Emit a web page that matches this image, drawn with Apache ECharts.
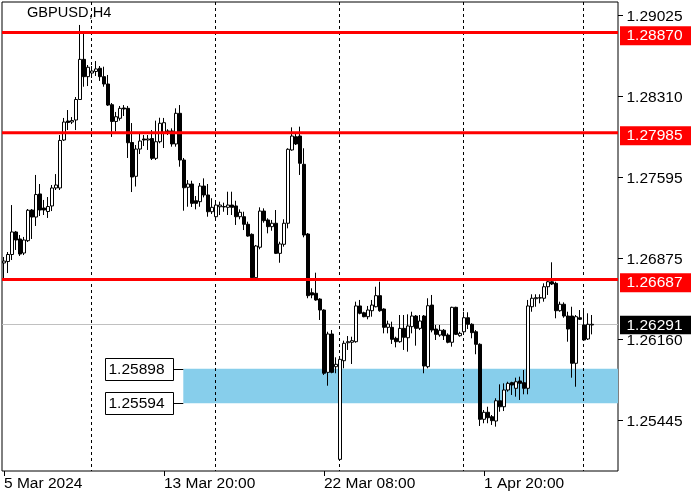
<!DOCTYPE html>
<html>
<head>
<meta charset="utf-8">
<script src="https://cdn.jsdelivr.net/npm/echarts@6/dist/echarts.min.js"></script>
<style>html,body{margin:0;padding:0;background:#fff}#c{width:700px;height:500px}</style>
</head>
<body>
<div id="c"></div>
<script>
const symbolTitle = 'GBPUSD,H4';
// H4 bars: [open, close, low, high]
const candles = [
[1.26833,1.26850,1.26700,1.26886],[1.26846,1.26908,1.26744,1.26930],[1.26908,1.27107,1.26859,1.27345],[1.27107,1.27036,1.26948,1.27116],
[1.27045,1.26912,1.26895,1.27080],[1.26921,1.27036,1.26903,1.27063],[1.27030,1.27299,1.27018,1.27310],[1.27301,1.27239,1.27045,1.27310],
[1.27239,1.27438,1.27160,1.27611],[1.27443,1.27301,1.27248,1.27531],[1.27319,1.27301,1.27257,1.27390],[1.27288,1.27332,1.27231,1.27416],
[1.27337,1.27496,1.27292,1.27522],[1.27496,1.27522,1.27478,1.27619],[1.27496,1.27916,1.27478,1.27964],[1.27920,1.28079,1.27911,1.28115],
[1.28088,1.28075,1.28008,1.28185],[1.28079,1.28092,1.28061,1.28123],[1.28097,1.28278,1.28008,1.28300],[1.28278,1.28633,1.28274,1.28937],
[1.28633,1.28480,1.28391,1.28866],[1.28480,1.28563,1.28397,1.28583],[1.28512,1.28530,1.28468,1.28574],[1.28526,1.28548,1.28486,1.28618],
[1.28554,1.28480,1.28442,1.28574],[1.28480,1.28415,1.28391,1.28568],[1.28415,1.28229,1.28221,1.28495],[1.28232,1.28084,1.27947,1.28247],
[1.28084,1.28126,1.27995,1.28168],[1.28112,1.28200,1.28091,1.28221],[1.28203,1.28194,1.28132,1.28229],[1.28200,1.27896,1.27761,1.28221],
[1.27898,1.27593,1.27460,1.28070],[1.27599,1.27840,1.27509,1.27876],[1.27840,1.27911,1.27796,1.27973],[1.27929,1.27920,1.27867,1.27964],
[1.27920,1.27929,1.27832,1.27964],[1.27933,1.27758,1.27743,1.28008],[1.27758,1.27905,1.27743,1.28091],[1.27905,1.28068,1.27891,1.28117],
[1.27988,1.28073,1.27849,1.28115],[1.28000,1.27979,1.27964,1.28015],[1.28000,1.27885,1.27861,1.28023],[1.27885,1.28156,1.27861,1.28200],
[1.28156,1.27743,1.27684,1.28229],[1.27743,1.27498,1.27295,1.27761],[1.27502,1.27531,1.27330,1.27566],[1.27531,1.27360,1.27328,1.27560],
[1.27383,1.27360,1.27307,1.27425],[1.27375,1.27513,1.27330,1.27540],[1.27513,1.27434,1.27413,1.27581],[1.27434,1.27286,1.27242,1.27531],
[1.27286,1.27325,1.27266,1.27405],[1.27242,1.27345,1.27231,1.27363],[1.27330,1.27345,1.27257,1.27375],[1.27332,1.27328,1.27286,1.27366],
[1.27325,1.27345,1.27257,1.27463],[1.27345,1.27325,1.27257,1.27463],[1.27337,1.27242,1.27169,1.27383],[1.27242,1.27281,1.27219,1.27307],
[1.27242,1.27175,1.27124,1.27286],[1.27175,1.27071,1.27065,1.27198],[1.27086,1.26703,1.26697,1.27095],[1.26703,1.26983,1.26689,1.26992],
[1.26972,1.27292,1.26954,1.27325],[1.27292,1.27207,1.27189,1.27316],[1.27213,1.27154,1.27095,1.27228],[1.27154,1.27184,1.27118,1.27213],
[1.27184,1.26918,1.26912,1.27301],[1.26918,1.27001,1.26835,1.27021],[1.26998,1.27184,1.26977,1.27219],[1.27184,1.27838,1.27139,1.27847],
[1.27832,1.27955,1.27825,1.28032],[1.27949,1.27885,1.27876,1.27979],[1.27955,1.27714,1.27611,1.28038],[1.27705,1.27080,1.27060,1.27847],
[1.27089,1.26544,1.26521,1.27098],[1.26570,1.26550,1.26521,1.26609],[1.26565,1.26506,1.26499,1.26747],[1.26514,1.26417,1.26329,1.26521],
[1.26417,1.25858,1.25843,1.26423],[1.25866,1.26205,1.25748,1.26225],[1.26205,1.25866,1.25858,1.26240],[1.25916,1.25937,1.25858,1.25999],
[1.25097,1.25981,1.25091,1.26004],[1.25969,1.26123,1.25902,1.26146],[1.26128,1.26137,1.26064,1.26187],[1.26132,1.26146,1.25940,1.26181],
[1.26137,1.26453,1.26128,1.26491],[1.26453,1.26388,1.26379,1.26506],[1.26393,1.26358,1.26353,1.26402],[1.26358,1.26417,1.26335,1.26453],
[1.26411,1.26461,1.26358,1.26506],[1.26446,1.26544,1.26441,1.26623],[1.26544,1.26411,1.26402,1.26667],[1.26426,1.26264,1.26211,1.26432],
[1.26264,1.26293,1.26211,1.26323],[1.26264,1.26158,1.26117,1.26314],[1.26167,1.26137,1.26087,1.26181],[1.26137,1.26255,1.26128,1.26373],
[1.26255,1.26176,1.26064,1.26373],[1.26172,1.26276,1.26049,1.26379],[1.26270,1.26364,1.26211,1.26402],[1.26364,1.26255,1.26102,1.26373],
[1.26255,1.26320,1.26240,1.26373],[1.26364,1.25922,1.25858,1.26373],[1.25916,1.26455,1.25902,1.26521],[1.26461,1.26240,1.26220,1.26550],
[1.26249,1.26202,1.26152,1.26285],[1.26196,1.26238,1.26181,1.26285],[1.26238,1.26190,1.26152,1.26249],[1.26196,1.26132,1.26123,1.26211],
[1.26132,1.26441,1.26093,1.26446],[1.26441,1.26202,1.26196,1.26446],[1.26190,1.26211,1.26181,1.26225],[1.26225,1.26349,1.26196,1.26402],
[1.26349,1.26291,1.26249,1.26397],[1.26291,1.26217,1.26167,1.26300],[1.26225,1.26114,1.26026,1.26240],[1.26114,1.25451,1.25392,1.26123],
[1.25451,1.25513,1.25416,1.25533],[1.25513,1.25465,1.25416,1.25562],[1.25474,1.25439,1.25401,1.25489],[1.25436,1.25615,1.25386,1.25637],
[1.25615,1.25562,1.25518,1.25760],[1.25562,1.25710,1.25524,1.25769],[1.25710,1.25769,1.25695,1.25783],[1.25775,1.25754,1.25666,1.25783],
[1.25725,1.25783,1.25651,1.25819],[1.25790,1.25769,1.25622,1.25828],[1.25775,1.25725,1.25672,1.25887],[1.25725,1.26453,1.25672,1.26506],
[1.26446,1.26521,1.26402,1.26556],[1.26517,1.26526,1.26446,1.26556],[1.26523,1.26526,1.26476,1.26556],[1.26521,1.26623,1.26491,1.26653],
[1.26623,1.26667,1.26550,1.26682],[1.26667,1.26647,1.26638,1.26839],[1.26653,1.26411,1.26344,1.26667],[1.26411,1.26468,1.26402,1.26491],
[1.26468,1.26364,1.26349,1.26485],[1.26364,1.26249,1.26137,1.26402],[1.26364,1.25946,1.25819,1.26446],[1.25946,1.26358,1.25739,1.26373],
[1.26349,1.26335,1.26329,1.26417],[1.26285,1.26152,1.26143,1.26432],[1.26161,1.26291,1.26152,1.26388],[1.26285,1.26291,1.26202,1.26373]
];
const shiftBars = 6;                       // empty space right of the last bar
const xLabelIndex = [0, 40, 80, 120];
const xLabelText = ['5 Mar 2024', '13 Mar 20:00', '22 Mar 08:00', '1 Apr 20:00'];
const weekSeparators = [22, 53, 84, 115, 145];
const priceTicks = [1.29025, 1.28310, 1.27595, 1.26875, 1.26160, 1.25445];
const resistanceLevels = [1.28870, 1.27985, 1.26687];
const currentPrice = 1.26291;
const zoneLevels = [1.25898, 1.25594];
const zoneStartBar = 45;
const yMin = 1.24994, yMax = 1.29140;

const FONT = '"Liberation Sans", Arial, sans-serif';
const FS = 15.5;

const categories = [];
for (let i = 0; i < candles.length + shiftBars; i++) categories.push(String(i));

function renderBack(params, api) {
  const cs = params.coordSys;
  const R = cs.x + cs.width;
  const kids = [];
  const zx = api.coord([zoneStartBar, zoneLevels[0]])[0] - 0.7;
  const zy1 = api.coord([0, zoneLevels[0]])[1];
  const zy2 = api.coord([0, zoneLevels[1]])[1];
  kids.push({type: 'rect', shape: {x: zx, y: zy1, width: R - zx, height: zy2 - zy1}, style: {fill: '#87ceeb'}});
  const cy = Math.round(api.coord([0, currentPrice])[1]) + 0.5;
  kids.push({type: 'line', shape: {x1: cs.x, y1: cy, x2: R, y2: cy}, style: {stroke: '#c0c0c0', lineWidth: 1}});
  weekSeparators.forEach(function (i) {
    const x = Math.round(api.coord([i, yMax])[0]) - 0.5;
    kids.push({type: 'line', shape: {x1: x, y1: cs.y, x2: x, y2: cs.y + cs.height}, style: {stroke: '#000', lineWidth: 1, lineDash: [3, 3]}});
  });
  return {type: 'group', children: kids};
}

function txt(x, y, s, fill, align) {
  return {type: 'text', x: x, y: y, style: {text: s, fill: fill, fontSize: FS, fontFamily: FONT, align: align || 'left', verticalAlign: 'middle'}};
}

function renderFront(params, api) {
  const cs = params.coordSys;
  const R = cs.x + cs.width;
  const kids = [];
  // price axis ticks and labels
  priceTicks.forEach(function (v) {
    const y = Math.round(api.coord([0, v])[1]) + 0.5;
    kids.push({type: 'line', shape: {x1: R, y1: y, x2: R + 5, y2: y}, style: {stroke: '#000', lineWidth: 1}});
    kids.push(txt(R + 8.5, y + 1, v.toFixed(5), '#000'));
  });
  // horizontal red levels
  resistanceLevels.forEach(function (v) {
    const y = api.coord([0, v])[1];
    kids.push({type: 'line', shape: {x1: cs.x, y1: y, x2: R, y2: y}, style: {stroke: '#ff0000', lineWidth: 3}});
    kids.push({type: 'rect', shape: {x: R + 2, y: y - 6.3, width: 71, height: 19}, style: {fill: '#ff0000'}});
    kids.push(txt(R + 8.5, y + 3.2, v.toFixed(5), '#fff'));
  });
  // current price box
  const cy = api.coord([0, currentPrice])[1];
  kids.push({type: 'rect', shape: {x: R + 2, y: cy - 8.5, width: 71, height: 18.5}, style: {fill: '#000'}});
  kids.push(txt(R + 8.5, cy + 1, currentPrice.toFixed(5), '#fff'));
  // zone labels
  const zx = api.coord([zoneStartBar, zoneLevels[0]])[0] - 0.7;
  zoneLevels.forEach(function (v) {
    const y = Math.round(api.coord([0, v])[1]) + 0.5;
    const bx = Math.round(zx - 78) + 0.5;
    kids.push({type: 'line', shape: {x1: bx + 68, y1: y, x2: zx, y2: y}, style: {stroke: '#000', lineWidth: 1}});
    kids.push({type: 'rect', shape: {x: bx, y: y - 11, width: 68, height: 22}, style: {fill: '#fff', stroke: '#000', lineWidth: 1}});
    kids.push(txt(bx + 3, y + 0.5, v.toFixed(5), '#000'));
  });
  return {type: 'group', children: kids};
}

const chart = echarts.init(document.getElementById('c'));
chart.setOption({
  animation: false,
  backgroundColor: '#fff',
  grid: {left: 2, right: 82, top: 2, bottom: 29, show: true, borderColor: '#000', borderWidth: 1, backgroundColor: '#fff'},
  graphic: [{type: 'text', left: 27, top: 5, style: {text: symbolTitle, fill: '#000', fontSize: 14.6, fontFamily: FONT}}],
  xAxis: {
    type: 'category', data: categories, boundaryGap: true,
    axisLine: {show: false},
    axisTick: {show: true, length: 5, alignWithLabel: true, interval: function (i) { return xLabelIndex.indexOf(i) >= 0; }, lineStyle: {color: '#000'}},
    axisLabel: {
      interval: function (i) { return xLabelIndex.indexOf(i) >= 0; },
      formatter: function (v, i) { const j = xLabelIndex.indexOf(Number(v)); return j >= 0 ? xLabelText[j] : ''; },
      align: 'left', margin: 5, color: '#000', fontSize: FS, fontFamily: FONT
    },
    splitLine: {show: false}
  },
  yAxis: {
    type: 'value', position: 'right', min: yMin, max: yMax, scale: true,
    axisLine: {show: false}, axisTick: {show: false}, axisLabel: {show: false}, splitLine: {show: false}
  },
  series: [
    {type: 'custom', renderItem: renderBack, data: [[0, 1.27]], z: 1, silent: true},
    {type: 'candlestick', data: candles, barWidth: 3, z: 2, silent: true,
     itemStyle: {color: '#fff', color0: '#000', borderColor: '#000', borderColor0: '#000', borderWidth: 1}},
    {type: 'custom', renderItem: renderFront, data: [[0, 1.27]], z: 3, silent: true}
  ]
});
</script>
</body>
</html>
